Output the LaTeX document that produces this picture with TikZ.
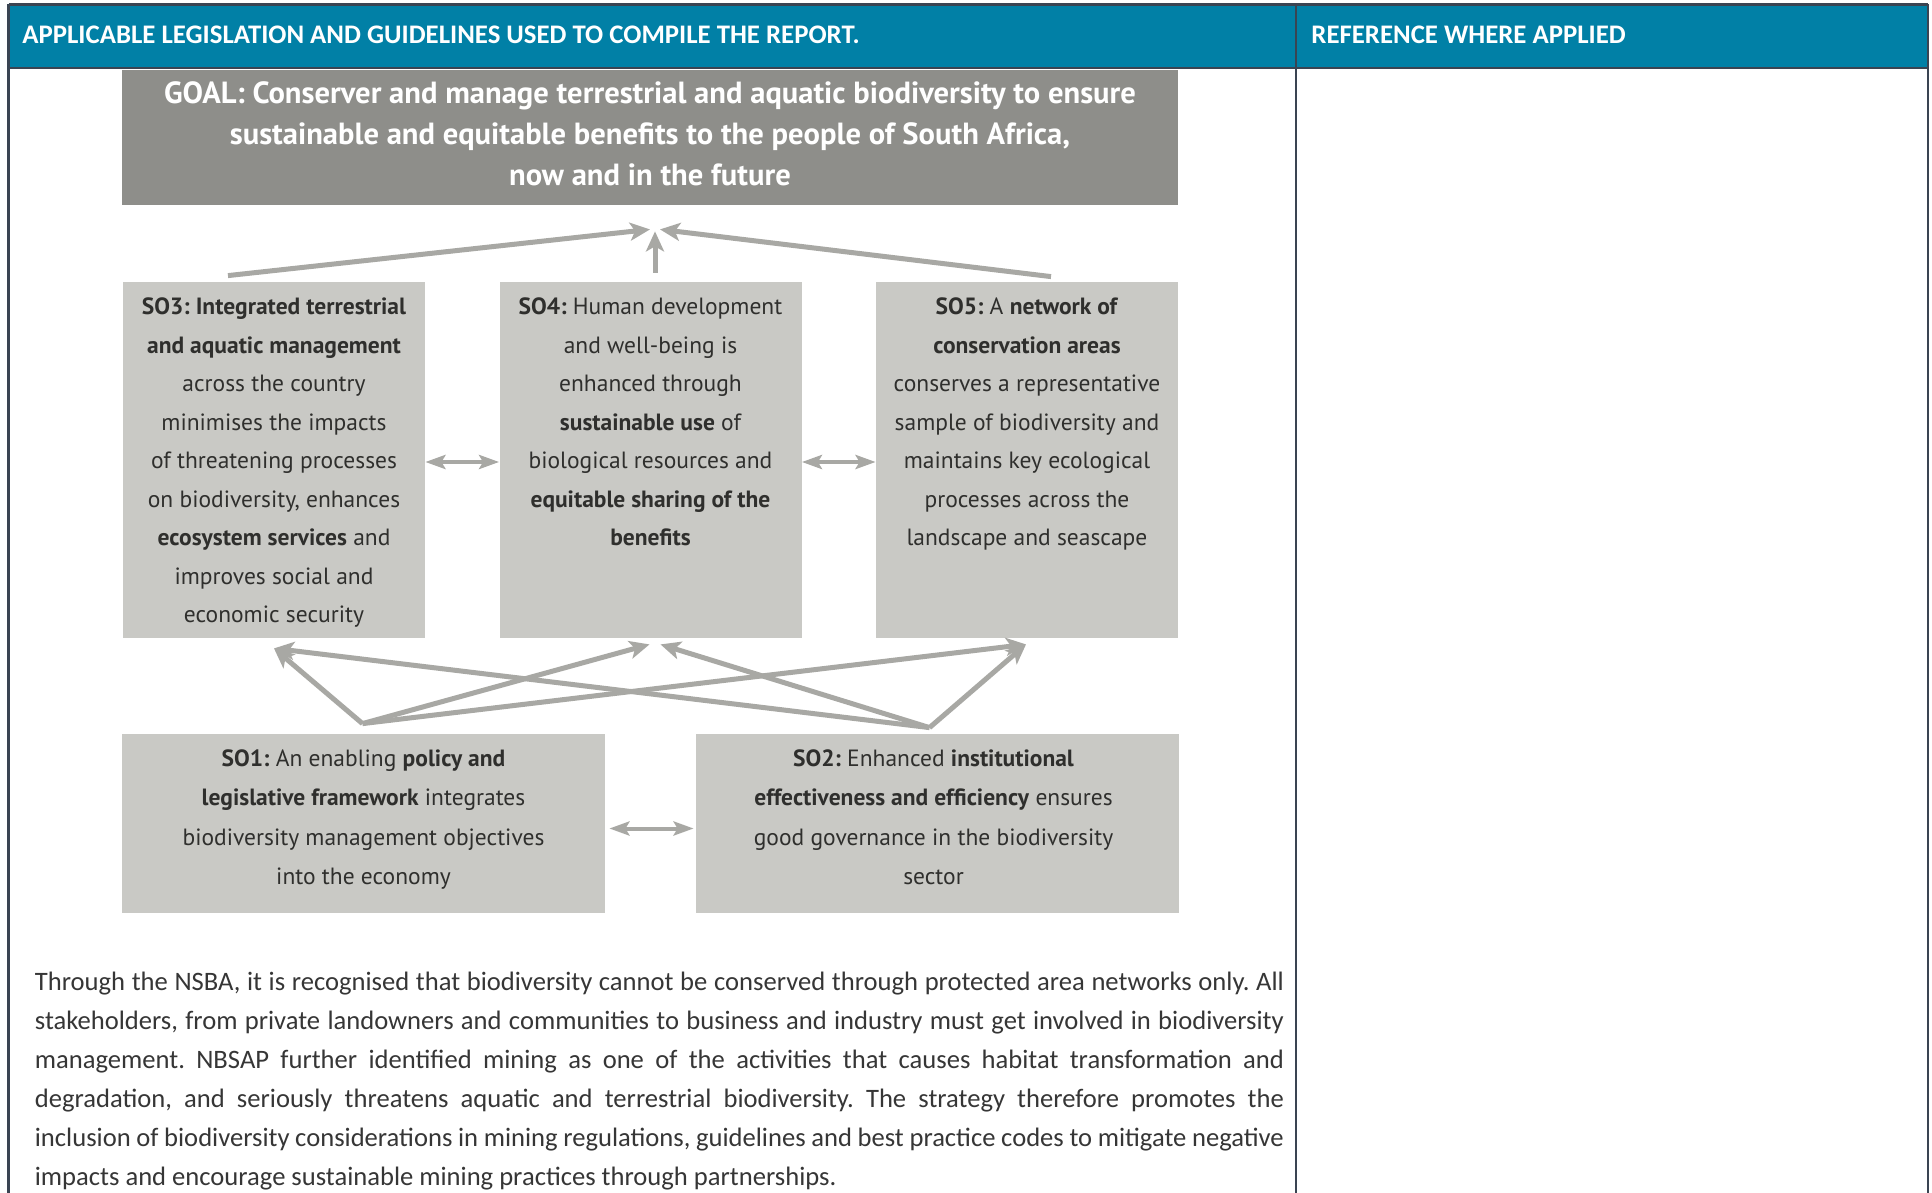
\documentclass[tikz,border=0pt]{standalone}
\usepackage{fontspec}
\setmainfont{Carlito}
\newfontfamily\dgfont{PT Sans}
\usetikzlibrary{arrows.meta,calc}

\definecolor{headteal}{HTML}{0180A6}
\definecolor{rulecol}{HTML}{3A4452}
\definecolor{goalgray}{HTML}{8E8E8A}
\definecolor{boxgray}{HTML}{C9C9C5}
\definecolor{arrowgray}{HTML}{A8A8A4}
\definecolor{dgtext}{HTML}{2F2F2D}
\definecolor{bodytext}{HTML}{363636}

\frenchspacing
\begin{document}
\begin{tikzpicture}[x=0.5pt,y=-0.5pt,
  rule/.style={draw=rulecol, line width=1.1pt},
  headtext/.style={font=\bfseries\fontsize{13.4}{16}\selectfont, text=white, inner sep=0pt, anchor=west},
  goalbox/.style={fill=goalgray, draw=none, inner sep=0pt, minimum width=528pt, minimum height=67.5pt},
  sobox/.style={fill=boxgray, draw=none, inner sep=0pt, minimum width=151pt, minimum height=178pt},
  lowbox/.style={fill=boxgray, draw=none, inner sep=0pt, minimum width=241.5pt, minimum height=89.5pt},
  goaltext/.style={font=\dgfont\bfseries\fontsize{15.3}{20.5}\selectfont, text=white, align=center, inner sep=0pt, anchor=north},
  sotext/.style={font=\dgfont\fontsize{11.75}{19.25}\selectfont, text=dgtext, align=center, inner sep=0pt, anchor=north},
  lowtext/.style={sotext, font=\dgfont\fontsize{11.75}{19.6}\selectfont},
  bigarrow/.style={draw=arrowgray, line width=2.5pt, -{Stealth[length=10pt,width=9pt,inset=2.5pt]}},
  linkarrow/.style={draw=arrowgray, line width=2pt, {Stealth[length=10pt,width=7pt,inset=2pt]}-{Stealth[length=10pt,width=7pt,inset=2pt]}}
]
\useasboundingbox (0,0) rectangle (1932,1193);
\fill[white] (0,0) rectangle (1932,1193);

% table header
\fill[headteal] (8.5,4.5) rectangle (1928,68);
\draw[rule] (8.5,4.5) -- (1928,4.5);
\draw[rule] (8.5,68) -- (1928,68);
\draw[rule] (8.5,4.5) -- (8.5,1193);
\draw[rule] (1928,4.5) -- (1928,1193);
\draw[rule] (1296,4.5) -- (1296,1193);
\node[headtext] (hleft) at (22,35) {APPLICABLE LEGISLATION AND GUIDELINES USED TO COMPILE THE REPORT.};
\node[headtext] (hright) at (1311,35) {REFERENCE WHERE APPLIED};

% goal
\node[goalbox] (goal) at (650,137.5) {};
\node[goaltext] (goalt) at ($(goal.north)+(0,11.5)$) {GOAL: Conserver and manage terrestrial and aquatic biodiversity to ensure\\
sustainable and equitable benefits to the people of South Africa,\\
now and in the future};

% strategic objectives, upper row
\node[sobox] (so3) at (274,460) {};
\node[sobox] (so4) at (650.5,460) {};
\node[sobox] (so5) at (1027,460) {};

\node[sotext] (so3t) at ($(so3.north)+(0,16)$) {\textbf{SO3: Integrated terrestrial}\\
\textbf{and aquatic management}\\
across the country\\
minimises the impacts\\
of threatening processes\\
on biodiversity, enhances\\
\textbf{ecosystem services} and\\
improves social and\\
economic security};

\node[sotext] (so4t) at ($(so4.north)+(0,16)$) {\textbf{SO4:} Human development\\
and well-being is\\
enhanced through\\
\textbf{sustainable use} of\\
biological resources and\\
\textbf{equitable sharing of the}\\
\textbf{benefits}};

\node[sotext] (so5t) at ($(so5.north)+(0,16)$) {\textbf{SO5:} A \textbf{network of}\\
\textbf{conservation areas}\\
conserves a representative\\
sample of biodiversity and\\
maintains key ecological\\
processes across the\\
landscape and seascape};

% strategic objectives, lower row
\node[lowbox] (so1) at (363.5,823.5) {};
\node[lowbox] (so2) at (937.5,823.5) {};

\node[lowtext] (so1t) at ($(so1.north)+(0,16)$) {\textbf{SO1:} An enabling \textbf{policy and}\\
\textbf{legislative framework} integrates\\
biodiversity management objectives\\
into the economy};

\node[lowtext] (so2t) at ($(so2.north)+(-4,16)$) {\textbf{SO2:} Enhanced \textbf{institutional}\\
\textbf{effectiveness and efficiency} ensures\\
good governance in the biodiversity\\
sector};

% arrows to the goal
\coordinate (gl) at ($(goal.south)+(0,24)$);
\coordinate (gm) at ($(goal.south)+(5,26)$);
\coordinate (gr) at ($(goal.south)+(10,24)$);
\coordinate (s3top) at ($(so3.north)+(-46,-6)$);
\coordinate (s4top) at ($(so4.north)+(4.5,-9)$);
\coordinate (s5top) at ($(so5.north)+(24,-5)$);
\draw[bigarrow] (s3top) -- (gl);
\draw[bigarrow] (s5top) -- (gr);
\draw[bigarrow] (s4top) -- (gm);

% links between neighbouring objectives
\draw[linkarrow] (so3.east) ++(0,2) -- ($(so4.west)+(0,2)$);
\draw[linkarrow] (so4.east) ++(0,2) -- ($(so5.west)+(0,2)$);
\draw[linkarrow] (so1.east) ++(4,5) -- ($(so2.west)+(-2,5)$);

% arrows from the lower objectives to the upper row
\coordinate (a1) at ($(so1.north)+(-1,-10)$);
\coordinate (a2) at ($(so2.north)+(-8,-6)$);
\coordinate (t3) at ($(so3.south)+(0,10)$);
\coordinate (t4a) at ($(so4.south)+(-1,6)$);
\coordinate (t4b) at ($(so4.south)+(10,6)$);
\coordinate (t5) at ($(so5.south)+(-1,6)$);
\draw[bigarrow] (a1) -- (t3);
\draw[bigarrow] (a1) -- (t4a);
\draw[bigarrow] (a1) -- (t5);
\draw[bigarrow] (a2) -- (t3);
\draw[bigarrow] (a2) -- (t4b);
\draw[bigarrow] (a2) -- (t5);

% explanatory paragraph
\node[anchor=north west, inner sep=0pt, text width=624.5pt, align=justify,
      font=\fontsize{13.3}{19.47}\selectfont, text=bodytext] (para) at (34.5,972)
{Through the NSBA, it is recognised that biodiversity cannot be conserved through protected area networks only. All\linebreak
stakeholders, from private landowners and communities to business and industry must get involved in biodiversity\linebreak
management. NBSAP further identified mining as one of the activities that causes habitat transformation and\linebreak
degradation, and seriously threatens aquatic and terrestrial biodiversity. The strategy therefore promotes the\linebreak
inclusion of biodiversity considerations in mining regulations, guidelines and best practice codes to mitigate negative\linebreak
impacts and encourage sustainable mining practices through partnerships.};
\end{tikzpicture}
\end{document}
